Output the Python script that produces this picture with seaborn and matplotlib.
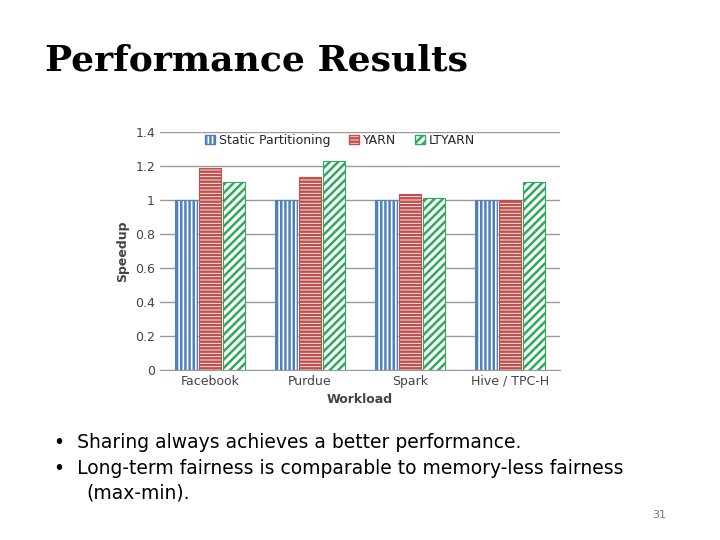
import matplotlib
matplotlib.use("Agg")
import matplotlib.pyplot as plt
import seaborn as sns
import pandas as pd

workloads = ["Facebook", "Purdue", "Spark", "Hive / TPC-H"]
series = ["Static Partitioning", "YARN", "LTYARN"]
static_vals = [1.0, 1.0, 1.0, 1.0]
yarn_vals = [1.19, 1.135, 1.035, 1.0]
ltyarn_vals = [1.105, 1.23, 1.01, 1.11]

df = pd.DataFrame({
    "Workload": workloads * 3,
    "Series": [s for s in series for _ in workloads],
    "Speedup": static_vals + yarn_vals + ltyarn_vals,
})

sns.set_style("white")
plt.rcParams["hatch.linewidth"] = 1.8
fig = plt.figure(figsize=(7.2, 5.4), dpi=100)
fig.text(0.062, 0.87, "Performance Results", fontsize=26, fontweight="bold",
         family="DejaVu Serif", color="black")
ax = fig.add_axes([0.222, 0.315, 0.556, 0.44])
colors = ["#4f81bd", "#c0504d", "#2eaa5c"]
sns.barplot(data=df, x="Workload", y="Speedup", hue="Series", hue_order=series,
            palette=["white"] * 3, ax=ax, width=0.72, gap=0.1, legend=True)
hatches = ["||||", "-----", "////"]
for cont, c, h in zip(ax.containers, colors, hatches):
    for p in cont:
        p.set_facecolor("white")
        p.set_edgecolor(c)
        p.set_hatch(h)
        p.set_linewidth(0.8)
ax.set_ylim(0, 1.4)
ax.set_yticks([0, 0.2, 0.4, 0.6, 0.8, 1, 1.2, 1.4])
ax.set_yticklabels(["0", "0.2", "0.4", "0.6", "0.8", "1", "1.2", "1.4"], fontsize=9, color="#444")
ax.yaxis.grid(True, color="#999", lw=1)
ax.set_axisbelow(True)
for s in ["top", "right", "left"]:
    ax.spines[s].set_visible(False)
ax.spines["bottom"].set_color("#999")
ax.tick_params(axis="x", labelsize=9, colors="#444", length=0)
ax.tick_params(axis="y", length=0)
ax.set_xlabel("Workload", fontsize=9, fontweight="bold", color="#444")
ax.set_ylabel("Speedup", fontsize=9, fontweight="bold", color="#444")
handles, labels = ax.get_legend_handles_labels()
for hd, c, h in zip(handles, colors, hatches):
    hd.set_edgecolor(c); hd.set_hatch(h); hd.set_facecolor("white")
ax.legend(handles, labels, loc="upper center", bbox_to_anchor=(0.45, 1.04), ncol=3,
          frameon=False, fontsize=9, handlelength=0.8, handleheight=0.8, columnspacing=1.5,
          handletextpad=0.3)
fig.text(0.075, 0.17, "•  Sharing always achieves a better performance.", fontsize=13.5, color="black")
fig.text(0.075, 0.123, "•  Long-term fairness is comparable to memory-less fairness", fontsize=13.5, color="black")
fig.text(0.12, 0.077, "(max-min).", fontsize=13.5, color="black")
fig.text(0.925, 0.04, "31", fontsize=8, color="#777", ha="right")
fig.savefig("out.png", dpi=100)
